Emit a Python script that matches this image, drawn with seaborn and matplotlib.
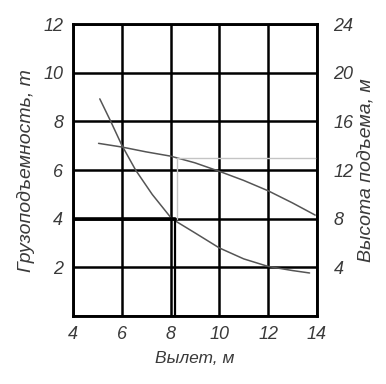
import matplotlib
matplotlib.use('Agg')
import matplotlib.pyplot as plt
import seaborn as sns
import pandas as pd

sns.set_style('white')
plt.rcParams['font.family'] = ['Liberation Sans', 'DejaVu Sans']

# Load capacity curve (left axis, t)
reach_load = [5.1, 5.55, 6, 6.57, 7.25, 8.05, 9, 10, 11, 12, 13, 13.7]
capacity = [8.93, 8.0, 7.03, 6.0, 5.0, 4.0, 3.42, 2.8, 2.35, 2.04, 1.87, 1.77]

# Hook height curve (right axis, m)
reach_height = [5.05, 6, 7, 8, 9, 10, 11, 12, 13, 13.93]
height = [14.2, 13.9, 13.5, 13.15, 12.6, 11.9, 11.15, 10.3, 9.3, 8.3]

# Example reading
read_reach = 8.2
read_load = 4
read_height = 12.96

x_ticks = [4, 6, 8, 10, 12, 14]
left_ticks = [2, 4, 6, 8, 10, 12]
right_ticks = [4, 8, 12, 16, 20, 24]

txt = '#3a3a3a'
fig = plt.figure(figsize=(3.86, 3.84), dpi=100)
ax = fig.add_axes([0.189, 0.177, 0.632, 0.760])
ax2 = ax.twinx()

ax.set_xlim(4, 14)
ax.set_ylim(0, 12)
ax2.set_ylim(0, 24)

ax.grid(True, color='black', lw=1.8)
ax.set_axisbelow(True)

df_load = pd.DataFrame({'x': reach_load, 'y': capacity})
df_h = pd.DataFrame({'x': reach_height, 'y': height})
sns.lineplot(data=df_load, x='x', y='y', ax=ax, color='#555555', lw=1.1)
sns.lineplot(data=df_h, x='x', y='y', ax=ax2, color='#555555', lw=1.1)

# reading lines
ax.plot([4, read_reach], [read_load, read_load], color='black', lw=2.6)
ax.plot([read_reach, read_reach], [0, read_load], color='black', lw=1.6)
ax2.plot([read_reach + 0.05, read_reach + 0.05], [read_load * 2, read_height], color='#c4c4c4', lw=1.0)
ax2.plot([read_reach + 0.05, 14], [read_height, read_height], color='#c4c4c4', lw=1.0)

for a in (ax, ax2):
    for s in a.spines.values():
        s.set_color('black')
        s.set_linewidth(1.8)
    a.tick_params(length=0, labelsize=13, colors=txt)

ax.set_xticks(x_ticks)
ax.set_xticklabels([str(t) for t in x_ticks], style='italic', color=txt)
ax.set_yticks([0] + left_ticks)
ax.set_yticklabels([''] + [str(t) for t in left_ticks], style='italic', color=txt)
ax2.set_yticks([0] + right_ticks)
ax2.set_yticklabels([''] + [str(t) for t in right_ticks], style='italic', color=txt)
ax.tick_params(axis='x', pad=7)
ax.tick_params(axis='y', pad=7)
ax2.tick_params(axis='y', pad=12)

ax.set_xlabel('Вылет, м', fontsize=12.5, style='italic', color=txt, labelpad=6)
ax.set_ylabel('Грузоподъемность, т', fontsize=14, style='italic', color=txt, labelpad=6)
ax2.set_ylabel('Высота подъема, м', fontsize=14, style='italic', color=txt, labelpad=3, rotation=90)

fig.savefig('out.png', dpi=100, facecolor='white')
